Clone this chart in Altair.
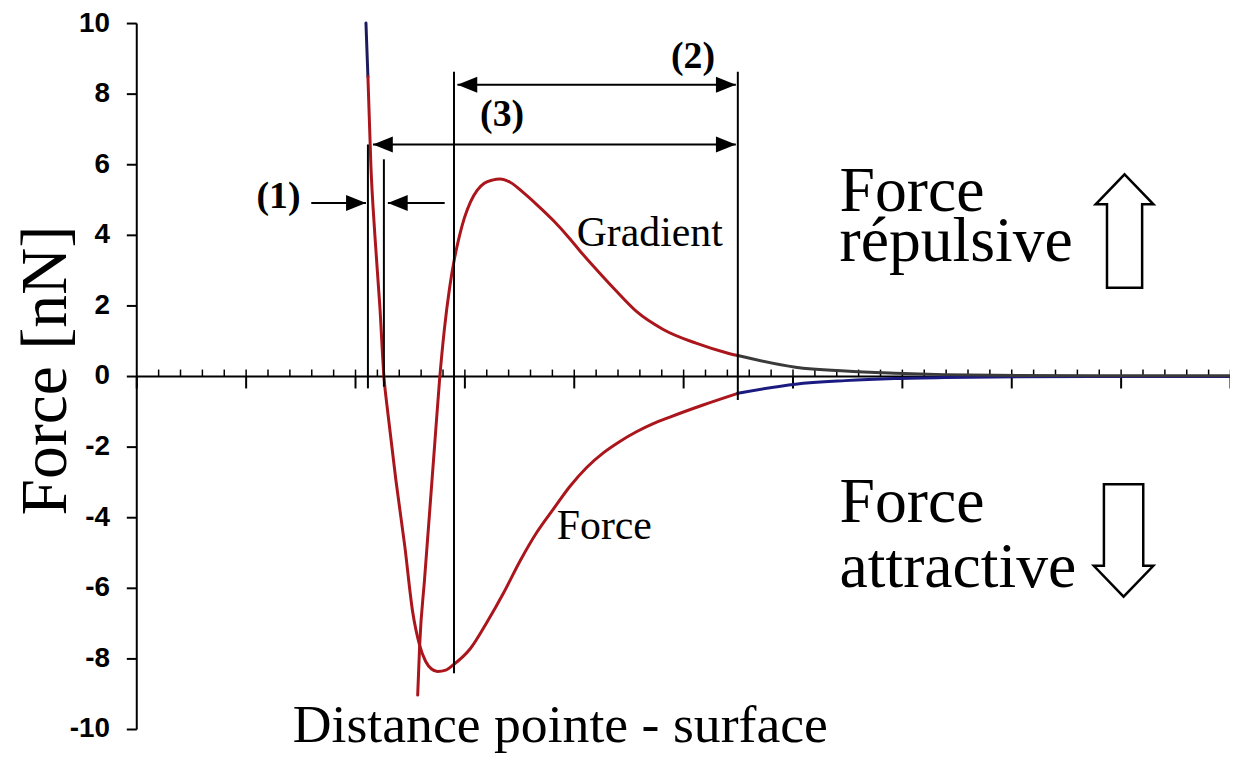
import altair as alt
import pandas as pd

# ---------------- values ----------------
# axis ticks
y_ticks = [-10, -8, -6, -4, -2, 0, 2, 4, 6, 8, 10]
x_major = [0, 1, 2, 3, 4, 5, 6, 7, 8, 9, 10]
x_minor = [0.2, 0.4, 0.6, 0.8, 1.0, 1.2, 1.4, 1.6, 1.8, 2.0,
           2.2, 2.4, 2.6, 2.8, 3.0, 3.2, 3.4, 3.6, 3.8, 4.0,
           4.2, 4.4, 4.6, 4.8, 5.0, 5.2, 5.4, 5.6, 5.8, 6.0,
           6.2, 6.4, 6.6, 6.8, 7.0, 7.2, 7.4, 7.6, 7.8, 8.0,
           8.2, 8.4, 8.6, 8.8, 9.0, 9.2, 9.4, 9.6, 9.8, 10.0]

# Force curve (three coloured pieces)
force_top_x = [2.100, 2.118]
force_top_y = [10.0, 8.48]
force_main_x = [2.118, 2.145, 2.182, 2.227, 2.264, 2.300, 2.373, 2.455, 2.527, 2.591,
                2.645, 2.700, 2.755, 2.830, 2.891, 3.055, 3.209, 3.364, 3.509, 3.664,
                3.818, 3.964, 4.118, 4.273, 4.418, 4.573, 4.727, 4.873, 5.182, 5.500]
force_main_y = [8.48, 5.97, 3.97, 1.97, 0.0, -1.04, -2.93, -4.82, -6.68, -7.63,
                -8.08, -8.30, -8.37, -8.33, -8.20, -7.72, -6.96, -6.11, -5.24, -4.42,
                -3.75, -3.13, -2.59, -2.17, -1.86, -1.58, -1.35, -1.17, -0.82, -0.49]
force_tail_x = [5.5, 6.027, 6.482, 6.936, 7.39, 7.845, 8.75, 10.0]
force_tail_y = [-0.49, -0.23, -0.13, -0.07, -0.04, -0.025, -0.015, -0.01]

# Gradient curve (two coloured pieces)
grad_main_x = [2.573, 2.591, 2.636, 2.682, 2.727, 2.773, 2.818, 2.864, 2.909, 2.955,
               3.0, 3.055, 3.118, 3.182, 3.255, 3.327, 3.418, 3.545, 3.664, 3.818,
               3.964, 4.055, 4.209, 4.391, 4.573, 4.818, 5.118, 5.418, 5.5]
grad_main_y = [-9.04, -7.63, -5.75, -3.86, -2.0, -0.11, 1.35, 2.48, 3.32, 3.97,
               4.48, 4.93, 5.27, 5.46, 5.55, 5.58, 5.49, 5.18, 4.85, 4.39,
               3.89, 3.55, 3.01, 2.40, 1.83, 1.32, 0.93, 0.64, 0.58]
grad_tail_x = [5.5, 6.027, 6.482, 6.936, 7.39, 7.845, 8.75, 10.0]
grad_tail_y = [0.58, 0.25, 0.14, 0.08, 0.04, 0.02, 0.01, 0.005]

# vertical marker lines
vline_x = [2.118, 2.264, 2.905, 5.5]
vline_top = [6.56, 6.14, 8.62, 8.62]
vline_bot = [-0.35, -0.30, -8.42, -0.68]

# arrow shafts (x from, x to, y)
shaft_x1 = [2.936, 2.164, 1.60, 2.30]
shaft_x2 = [5.482, 5.482, 2.10, 2.82]
shaft_y = [8.25, 6.56, 4.90, 4.90]
# arrow heads
head_left_x = [2.936, 2.164, 2.30]
head_left_y = [8.25, 6.56, 4.90]
head_right_x = [5.482, 5.482, 2.10]
head_right_y = [8.25, 6.56, 4.90]

# texts
big_text = ["Force", "répulsive", "Force", "attractive"]
big_text_x = [6.43, 6.43, 6.43, 6.43]
big_text_y = [4.68, 3.27, -4.14, -5.97]
curve_text = ["Gradient", "Force"]
curve_text_x = [4.027, 3.845]
curve_text_y = [3.69, -4.62]
bracket_text = ["(1)", "(2)", "(3)"]
bracket_text_x = [1.30, 5.09, 3.345]
bracket_text_y = [4.76, 8.73, 7.07]

# big hollow arrows
up_arrow_x, up_arrow_y = [9.036], [4.11]
down_arrow_x, down_arrow_y = [9.027], [-4.66]

# ---------------- build tables ----------------
seg_names = ["force_top", "force_main", "force_tail", "grad_main", "grad_tail"]
seg_colors = ["#1c1c5c", "#aa161c", "#1a1a80", "#aa161c", "#3a3a3a"]
pieces = [
    ("force_top", force_top_x, force_top_y),
    ("force_main", force_main_x, force_main_y),
    ("force_tail", force_tail_x, force_tail_y),
    ("grad_main", grad_main_x, grad_main_y),
    ("grad_tail", grad_tail_x, grad_tail_y),
]
rows = []
for name, xs_, ys_ in pieces:
    for i, (a, b) in enumerate(zip(xs_, ys_)):
        rows.append({"seg": name, "i": i, "x": a, "y": b})
curve_df = pd.DataFrame(rows)

vline_df = pd.DataFrame({"x": vline_x, "y1": vline_top, "y2": vline_bot})
shaft_df = pd.DataFrame({"x1": shaft_x1, "x2": shaft_x2, "y": shaft_y})
headL_df = pd.DataFrame({"x": head_left_x, "y": head_left_y})
headR_df = pd.DataFrame({"x": head_right_x, "y": head_right_y})
big_df = pd.DataFrame({"t": big_text, "x": big_text_x, "y": big_text_y})
curve_txt_df = pd.DataFrame({"t": curve_text, "x": curve_text_x, "y": curve_text_y})
br_df = pd.DataFrame({"t": bracket_text, "x": bracket_text_x, "y": bracket_text_y})
up_df = pd.DataFrame({"x": up_arrow_x, "y": up_arrow_y})
down_df = pd.DataFrame({"x": down_arrow_x, "y": down_arrow_y})

# ---------------- scales & axes ----------------
xs = alt.Scale(domain=[0, 10], nice=False, zero=False)
ys = alt.Scale(domain=[-10, 10], nice=False, zero=False)

bottom_axis = alt.Axis(
    orient="bottom", offset=-355, values=x_major, tickSize=12, tickWidth=2,
    tickColor="black", domainColor="black", domainWidth=2, labels=False, grid=False,
    title="Distance pointe - surface", titleFont="Liberation Serif", titleFontSize=54,
    titleFontWeight="normal", titleColor="black", titleX=426, titleY=368,
    titleAlign="center", titleBaseline="alphabetic",
)
top_axis = alt.Axis(
    orient="top", offset=-355, values=x_minor, tickSize=7, tickWidth=1.5,
    tickColor="black", domain=False, labels=False, grid=False, title=None,
)
left_axis = alt.Axis(
    orient="left", values=y_ticks, tickSize=10, tickWidth=2, tickColor="black",
    domainColor="black", domainWidth=2, labelFont="Liberation Sans",
    labelFontWeight="bold", labelFontSize=28, labelColor="black", labelPadding=17,
    labelExpr="datum.value < 0 ? '-' + abs(datum.value) : '' + datum.value",
    grid=False, title="Force [nN]", titleFont="Liberation Serif", titleFontSize=66,
    titleFontWeight="normal", titleColor="black", titleAngle=270, titleX=-71,
    titleY=349, titleAlign="center", titleBaseline="alphabetic",
)

# ---------------- layers ----------------
curves = alt.Chart(curve_df).mark_line(
    strokeWidth=3, strokeCap="round", interpolate="monotone"
).encode(
    x=alt.X("x:Q", scale=xs, axis=bottom_axis),
    y=alt.Y("y:Q", scale=ys, axis=left_axis),
    color=alt.Color("seg:N", scale=alt.Scale(domain=seg_names, range=seg_colors), legend=None),
    order="i:Q",
)

vlines = alt.Chart(vline_df).mark_rule(color="black", strokeWidth=2).encode(
    x=alt.X("x:Q", scale=xs, axis=top_axis),
    y=alt.Y("y1:Q", scale=ys, axis=None),
    y2="y2:Q",
)

shafts = alt.Chart(shaft_df).mark_rule(color="black", strokeWidth=2).encode(
    x=alt.X("x1:Q", scale=xs, axis=None),
    x2="x2:Q",
    y=alt.Y("y:Q", scale=ys, axis=None),
)

path_left = "M0,0L2,-0.8L2,0.8Z"
path_right = "M0,0L-2,-0.8L-2,0.8Z"
headsL = alt.Chart(headL_df).mark_point(
    shape=path_left, size=400, filled=True, color="black", opacity=1
).encode(x=alt.X("x:Q", scale=xs, axis=None), y=alt.Y("y:Q", scale=ys, axis=None))
headsR = alt.Chart(headR_df).mark_point(
    shape=path_right, size=400, filled=True, color="black", opacity=1
).encode(x=alt.X("x:Q", scale=xs, axis=None), y=alt.Y("y:Q", scale=ys, axis=None))

up_path = "M0,-1L0.51,-0.47L0.31,-0.47L0.31,1L-0.31,1L-0.31,-0.47L-0.51,-0.47Z"
down_path = "M-0.35,-1L0.35,-1L0.35,0.45L0.53,0.45L0,1L-0.53,0.45L-0.35,0.45Z"
up_arrow = alt.Chart(up_df).mark_point(
    shape=up_path, size=12996, filled=True, fill="white", stroke="black",
    strokeWidth=2.5, opacity=1, fillOpacity=1, strokeOpacity=1,
).encode(x=alt.X("x:Q", scale=xs, axis=None), y=alt.Y("y:Q", scale=ys, axis=None))
down_arrow = alt.Chart(down_df).mark_point(
    shape=down_path, size=12769, filled=True, fill="white", stroke="black",
    strokeWidth=2.5, opacity=1, fillOpacity=1, strokeOpacity=1,
).encode(x=alt.X("x:Q", scale=xs, axis=None), y=alt.Y("y:Q", scale=ys, axis=None))

big_txt = alt.Chart(big_df).mark_text(
    font="Liberation Serif", fontSize=64, align="left", baseline="alphabetic", color="black"
).encode(x=alt.X("x:Q", scale=xs, axis=None), y=alt.Y("y:Q", scale=ys, axis=None), text="t:N")

curve_txt = alt.Chart(curve_txt_df).mark_text(
    font="Liberation Serif", fontSize=42, align="left", baseline="alphabetic", color="black"
).encode(x=alt.X("x:Q", scale=xs, axis=None), y=alt.Y("y:Q", scale=ys, axis=None), text="t:N")

br_txt = alt.Chart(br_df).mark_text(
    font="Liberation Serif", fontSize=38, fontWeight="bold", align="center",
    baseline="alphabetic", color="black"
).encode(x=alt.X("x:Q", scale=xs, axis=None), y=alt.Y("y:Q", scale=ys, axis=None), text="t:N")

chart = alt.layer(
    curves, vlines, shafts, headsL, headsR, up_arrow, down_arrow,
    big_txt, curve_txt, br_txt
).properties(
    width=1100,
    height=710,
    padding={"left": 129, "top": 13, "right": 0, "bottom": 24},
    autosize=alt.AutoSizeParams(type="none"),
    background="white",
).resolve_axis(x="independent", y="independent").configure_view(strokeWidth=0)

chart.save("out.html", embed_options={"renderer": "svg", "actions": False})
